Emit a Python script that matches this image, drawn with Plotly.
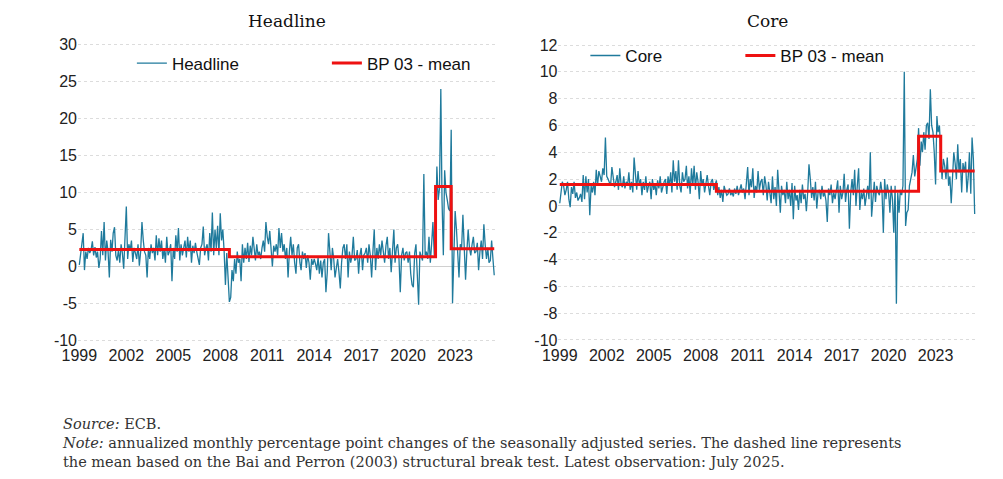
import plotly.graph_objects as go
from plotly.subplots import make_subplots
import pandas as pd

headline = [
 0.2,1.5,3.0,4.5,-0.5,2.0,1.0,2.5,1.8,2.2,3.4,1.5,
 2.6,1.2,2.0,-0.2,1.0,4.8,1.5,6.0,0.8,3.5,2.0,-1.5,
 3.6,2.0,4.5,5.3,1.5,0.8,2.2,0.5,3.0,1.8,-0.3,3.5,
 8.1,1.0,3.0,2.2,3.5,0.6,2.5,1.8,1.0,3.0,0.1,2.0,
 6.0,3.5,2.0,1.5,-1.5,2.5,1.0,3.0,1.8,2.5,0.8,4.2,
 1.5,3.8,2.0,3.5,1.0,2.4,0.5,4.0,1.5,2.0,3.0,-2.0,
 2.5,1.0,4.2,2.0,5.2,0.8,3.0,1.5,2.5,3.5,1.2,4.0,
 2.0,3.5,0.5,2.8,1.8,3.2,2.0,1.0,0.2,2.5,3.0,5.4,
 1.5,2.5,3.0,0.8,4.5,2.0,7.3,1.5,5.0,2.5,5.5,1.5,
 7.2,3.5,5.0,2.0,-2.5,1.8,-1.0,-4.8,-4.2,-0.5,-2.0,1.0,
 -1.0,2.0,0.5,1.0,-2.0,3.0,0.5,2.5,1.0,3.2,0.6,2.8,
 1.5,4.0,2.5,0.8,3.0,1.5,2.0,1.0,2.5,3.5,2.0,6.0,
 4.0,3.0,4.8,1.5,0.0,2.8,2.0,3.0,1.5,5.2,2.5,4.5,
 2.0,3.0,1.0,2.5,-1.5,2.0,4.0,1.5,3.0,0.5,-1.0,2.5,
 3.0,0.5,-0.5,2.0,1.0,1.8,-0.2,1.5,0.5,-1.8,1.0,0.2,
 1.0,0.3,-0.5,1.2,-1.0,0.8,-1.5,0.5,1.0,-3.5,-0.8,4.5,
 1.5,-0.5,2.5,1.0,-1.5,0.2,1.0,-0.8,-3.0,0.5,2.5,3.0,
 1.0,3.0,-1.5,2.0,0.5,1.5,4.0,0.8,1.0,2.2,-1.0,1.5,
 2.5,-0.5,1.5,1.8,2.5,0.5,3.0,1.5,-1.5,2.0,5.0,-0.5,
 2.5,1.0,3.0,1.5,3.5,2.0,0.5,2.8,4.0,1.0,2.5,-0.8,
 1.5,5.0,0.5,2.5,3.0,1.0,-3.5,1.5,2.5,0.8,1.8,2.0,
 0.5,2.0,-1.0,-2.5,-2.8,1.8,3.0,-1.0,-5.2,2.0,1.5,0.8,
 12.5,1.5,2.0,1.0,4.0,0.5,3.0,6.0,1.5,4.0,13.5,9.0,
 10.5,24.0,9.0,1.5,13.0,10.0,9.0,7.8,7.5,18.5,-5.0,0.5,
 7.5,5.0,2.0,-1.5,3.0,2.5,7.0,1.5,-1.8,2.0,5.0,2.5,
 1.5,3.0,4.0,1.8,2.0,3.2,-0.5,2.0,3.5,1.0,5.7,3.0,
 1.0,2.5,0.5,0.8,3.5,1.0,-1.2,
]
core = [
 0.2,1.0,1.8,1.5,0.8,1.2,1.8,0.5,-0.1,1.4,0.9,1.8,
 0.6,1.0,0.4,0.6,0.9,0.3,2.3,0.5,2.2,1.0,2.0,-0.7,
 1.5,1.0,1.8,0.8,2.7,1.5,2.6,2.2,1.8,2.8,2.3,5.1,
 2.2,2.0,1.8,1.5,2.9,2.0,1.4,1.8,2.3,1.2,2.8,1.6,
 1.4,2.2,1.3,1.8,1.5,2.5,1.2,1.8,1.0,3.6,2.0,1.2,
 2.6,1.5,2.0,0.8,1.8,1.2,2.2,1.0,1.5,1.8,0.5,2.0,
 1.2,1.6,0.8,1.9,1.3,2.2,1.0,1.5,1.8,2.0,0.9,2.2,
 1.5,2.5,1.0,3.4,1.8,2.6,1.2,3.4,1.5,1.0,2.5,1.8,
 2.0,3.0,1.3,2.2,0.9,2.8,1.5,3.0,1.2,2.5,1.8,0.5,
 2.6,1.5,2.0,1.0,1.8,2.3,1.5,0.8,1.8,2.0,1.2,1.5,
 1.9,0.8,1.4,0.6,1.2,0.3,1.5,1.1,0.8,0.9,1.3,0.8,
 1.0,0.7,1.3,0.9,1.5,0.8,1.2,1.6,1.0,1.3,0.5,1.8,
 2.9,0.8,2.0,1.4,2.8,0.6,1.5,1.0,2.6,1.2,1.8,2.0,
 0.8,2.2,1.6,0.4,1.8,1.0,0.2,2.2,0.5,1.4,0.0,2.7,
 1.0,-0.5,1.5,0.8,1.2,0.2,1.8,0.5,1.2,0.0,1.7,-1.0,
 1.5,0.4,0.8,-0.3,1.2,0.2,1.6,0.5,0.9,-0.4,1.0,3.1,
 2.0,0.6,1.4,0.4,1.8,-0.2,1.0,1.2,0.5,1.5,0.7,1.0,
 0.4,-1.2,1.3,0.8,1.6,0.2,1.0,0.5,1.2,1.9,-0.5,1.5,
 0.5,1.0,2.4,0.3,1.2,1.6,-1.7,1.0,2.0,0.8,2.7,0.0,
 1.5,2.8,-0.3,1.0,0.5,1.3,0.0,0.8,1.5,0.5,4.0,-0.8,
 0.5,1.8,0.3,1.5,1.0,0.8,1.8,1.0,-2.0,2.0,0.5,1.6,
 1.0,-0.5,1.5,0.5,-2.0,1.5,-7.3,1.0,-0.5,1.2,0.8,1.5,
 10.0,-1.5,-0.5,-0.3,1.5,2.0,2.5,3.8,2.2,2.8,3.5,5.8,
 3.0,4.8,4.0,5.5,4.2,6.0,6.2,5.0,8.7,6.0,5.5,4.0,
 1.6,6.7,5.5,6.0,3.5,2.0,3.5,3.0,2.0,3.6,1.5,2.2,
 0.2,2.8,4.0,3.2,2.0,4.6,2.5,3.5,1.0,3.2,2.5,3.3,
 1.0,2.2,4.0,0.9,5.1,3.5,-0.6,
]
dates = pd.date_range("1999-01-01", periods=len(headline), freq="MS")

h_break_dates = ["1999-01-01", "2008-08-01", "2021-10-01", "2022-10-01", "2025-07-01"]
h_break_levels = [2.3, 1.3, 10.8, 2.4, 2.4]
c_break_dates = ["1999-01-01", "2009-01-01", "2021-12-01", "2023-05-01", "2025-07-01"]
c_break_levels = [1.6, 1.1, 5.2, 2.6, 2.6]

tick_years = list(range(1999, 2024, 3))
h_ticks = list(range(-10, 31, 5))
c_ticks = list(range(-10, 13, 2))

fig = make_subplots(rows=1, cols=2, horizontal_spacing=0.07,
                    subplot_titles=("Headline", "Core"))
blue = "#1f7a9c"
red = "#ee1111"
fig.add_trace(go.Scatter(x=dates, y=headline, mode="lines", name="Headline",
                         line=dict(color=blue, width=1.3), legend="legend"), 1, 1)
fig.add_trace(go.Scatter(x=h_break_dates, y=h_break_levels, mode="lines", name="BP 03 - mean",
                         line=dict(color=red, width=3, shape="hv"), legend="legend"), 1, 1)
fig.add_trace(go.Scatter(x=dates, y=core, mode="lines", name="Core",
                         line=dict(color=blue, width=1.3), legend="legend2"), 1, 2)
fig.add_trace(go.Scatter(x=c_break_dates, y=c_break_levels, mode="lines", name="BP 03 - mean",
                         line=dict(color=red, width=3, shape="hv"), legend="legend2"), 1, 2)

axfont = dict(family="Liberation Sans, Arial", size=16, color="#222")
for c in (1, 2):
    fig.update_xaxes(row=1, col=c, tickvals=[f"{y}-01-01" for y in tick_years],
                     ticktext=[str(y) for y in tick_years], range=["1998-12-01", "2025-08-01"],
                     showgrid=False, showline=False, ticks="", tickfont=axfont)
fig.update_yaxes(row=1, col=1, range=[-10.5, 30.5], tickvals=h_ticks,
                 ticktext=[str(v) for v in h_ticks], tickfont=axfont,
                 gridcolor="#dcdcdc", griddash="dot", zeroline=True, zerolinecolor="#d0d0d0",
                 zerolinewidth=1)
fig.update_yaxes(row=1, col=2, range=[-10.3, 12.3], tickvals=c_ticks,
                 ticktext=[str(v) for v in c_ticks], tickfont=axfont,
                 gridcolor="#dcdcdc", griddash="dot", zeroline=True, zerolinecolor="#d0d0d0",
                 zerolinewidth=1)
fig.update_annotations(font=dict(family="DejaVu Serif", size=17, color="#111"), yshift=8)

legfont = dict(family="Liberation Sans, Arial", size=17, color="#111")
fig.update_layout(
    width=1003, height=479, plot_bgcolor="white", paper_bgcolor="white",
    margin=dict(l=70, r=35, t=33, b=143),
    legend=dict(orientation="h", x=0.06, y=0.985, xanchor="left", yanchor="top",
                font=legfont, bgcolor="rgba(0,0,0,0)", entrywidth=150),
    legend2=dict(orientation="h", x=0.565, y=1.01, xanchor="left", yanchor="top",
                 font=legfont, bgcolor="rgba(0,0,0,0)", entrywidth=110),
)
notefont = dict(family="DejaVu Serif", size=14.5, color="#333")
fig.add_annotation(xref="paper", yref="paper", x=-0.02, y=-0.23, xanchor="left", yanchor="top",
                   showarrow=False, align="left", font=notefont,
                   text="<i>Source:</i> ECB.<br><i>Note:</i> annualized monthly percentage point changes of the seasonally adjusted series. The dashed line represents<br>the mean based on the Bai and Perron (2003) structural break test. Latest observation: July 2025.")
fig.write_html("out.html")
